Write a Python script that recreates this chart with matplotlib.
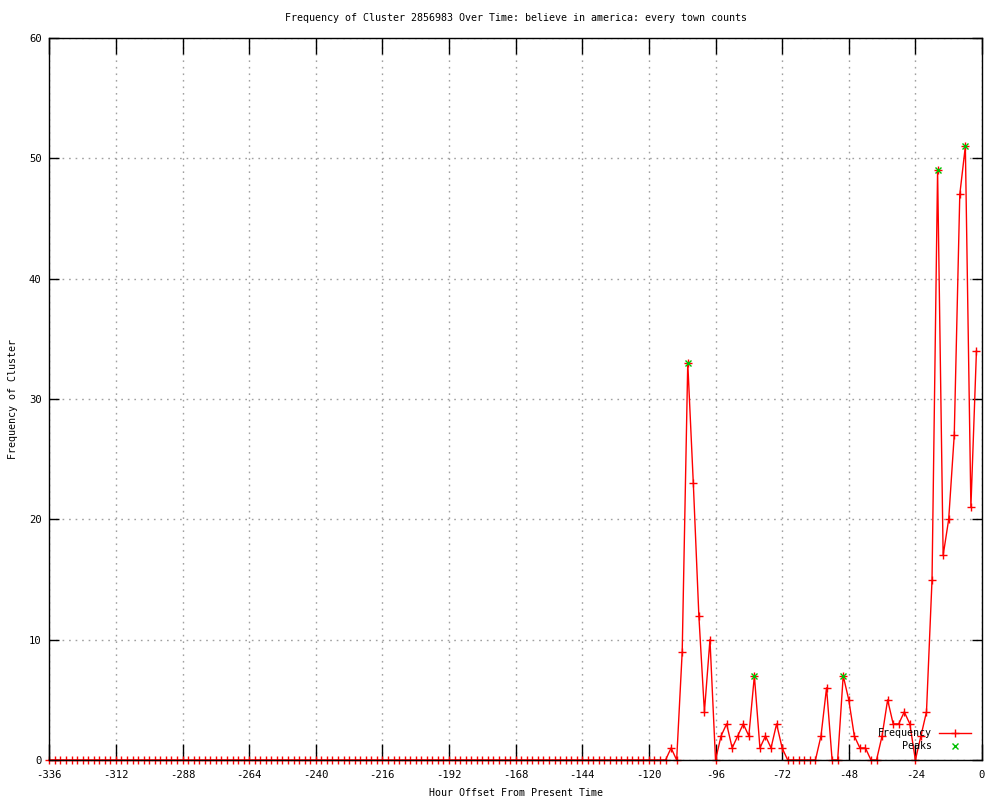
import numpy as np
import matplotlib
matplotlib.use('Agg')
import matplotlib.pyplot as plt

# hour offsets, one sample every 2 hours
hours = list(range(-336, 0, 2))

freq = [
    # -336 .. -114
    0, 0, 0, 0, 0, 0, 0, 0, 0, 0, 0, 0, 0, 0, 0, 0,
    0, 0, 0, 0, 0, 0, 0, 0, 0, 0, 0, 0, 0, 0, 0, 0,
    0, 0, 0, 0, 0, 0, 0, 0, 0, 0, 0, 0, 0, 0, 0, 0,
    0, 0, 0, 0, 0, 0, 0, 0, 0, 0, 0, 0, 0, 0, 0, 0,
    0, 0, 0, 0, 0, 0, 0, 0, 0, 0, 0, 0, 0, 0, 0, 0,
    0, 0, 0, 0, 0, 0, 0, 0, 0, 0, 0, 0, 0, 0, 0, 0,
    0, 0, 0, 0, 0, 0, 0, 0, 0, 0, 0, 0, 0, 0, 0, 0,
    # -112 .. -2
    1, 0, 9, 33, 23, 12, 4, 10, 0, 2, 3, 1, 2, 3, 2, 7,
    1, 2, 1, 3, 1, 0, 0, 0, 0, 0, 0, 2, 6, 0, 0, 7,
    5, 2, 1, 1, 0, 0, 2, 5, 3, 3, 4, 3, 0, 2, 4, 15,
    49, 17, 20, 27, 47, 51, 21, 34,
]

peak_hours = [-106, -82, -50, -16, -6]
peak_values = [33, 7, 7, 49, 51]

xticks = list(range(-336, 1, 24))
yticks = [0, 10, 20, 30, 40, 50, 60]

plt.rcParams['font.family'] = ['DejaVu Sans Mono']
plt.rcParams['font.size'] = 7.2
plt.rcParams['axes.unicode_minus'] = False

fig = plt.figure(figsize=(10, 8), dpi=100)
ax = fig.add_axes([0.0493, 0.05, 0.9327, 0.9025])

ax.plot(hours, freq, color='red', lw=1, marker='+', ms=6, mew=1,
        clip_on=False, label='Frequency')
ax.plot(peak_hours, peak_values, ls='none', color='#00c000', marker='x',
        ms=5, mew=1, clip_on=False, label='Peaks')

ax.set_xlim(-336, 0)
ax.set_ylim(0, 60)
ax.set_xticks(xticks)
ax.set_yticks(yticks)
ax.tick_params(axis='x', direction='in', length=11.5, width=1, top=True,
               pad=7, colors='black', labelsize=7.6)
ax.tick_params(axis='y', direction='in', length=7, width=1, right=True,
               pad=5.5, colors='black', labelsize=7.6)
ax.grid(True, color='#a0a0a0', lw=1, ls=(0, (1.2, 3.5)))
for s in ax.spines.values():
    s.set_linewidth(1)

ax.set_xlabel('Hour Offset From Present Time')
ax.xaxis.set_label_coords(0.5, -0.0457)
ax.xaxis.label.set_va('center')
ax.set_ylabel('Frequency of Cluster')
ax.yaxis.set_label_coords(-0.039, 0.5)
ax.yaxis.label.set_va('center')

fig.text(0.5156, 0.9775,
         'Frequency of Cluster 2856983 Over Time: believe in america: every town counts',
         ha='center', va='center')

ax.legend(loc='lower right', bbox_to_anchor=(0.988, 0.012), frameon=False,
          markerfirst=False, numpoints=1, handlelength=3.2, handletextpad=0.7,
          labelspacing=0.3, borderpad=0, borderaxespad=0)

fig.savefig('out.png', dpi=100)
plt.close(fig)
